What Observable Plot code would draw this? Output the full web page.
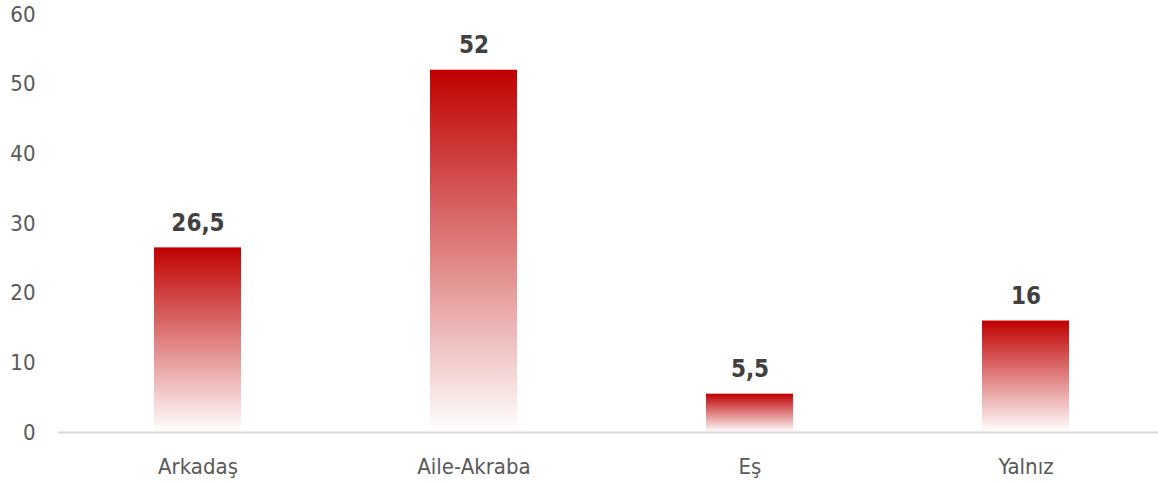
<!DOCTYPE html>
<html>
<head>
<meta charset="utf-8">
<script src="https://cdn.jsdelivr.net/npm/d3@7"></script>
<script src="https://cdn.jsdelivr.net/npm/@observablehq/plot@0.6"></script>
<style>
  html, body { margin: 0; padding: 0; background: #fff; }
  #chart { width: 1158px; height: 484px; }
  svg { font-family: "DejaVu Sans Condensed", "DejaVu Sans", sans-serif; }
</style>
</head>
<body>
<div id="chart"></div>
<script>
const categories = ["Arkadaş", "Aile-Akraba", "Eş", "Yalnız"];
const values = [26.5, 52, 5.5, 16];
const yTicks = [0, 10, 20, 30, 40, 50, 60];

const data = categories.map((c, i) => ({category: c, value: values[i]}));
const fmt = v => String(v).replace(".", ",");

const plot = Plot.plot({
  width: 1158,
  height: 484,
  marginLeft: 58,
  marginRight: 0,
  marginTop: 14,
  marginBottom: 52,
  style: {fontFamily: "'DejaVu Sans Condensed', 'DejaVu Sans', sans-serif", background: "#fff"},
  x: {domain: categories, range: [58, 1164], paddingInner: 0.685, paddingOuter: 0.3425, label: null},
  y: {domain: [0, 60], label: null},
  marks: [
    Plot.barY(data, {x: "category", y: "value", fill: "url(#barGrad)"}),
    Plot.ruleY([0], {stroke: "#d9d9d9", strokeWidth: 2}),
    Plot.axisY({ticks: yTicks, tickSize: 0, tickPadding: 23, fontSize: 22, fill: "#595959", label: null}),
    Plot.axisX({tickSize: 0, tickPadding: 26, fontSize: 22, fill: "#595959", label: null}),
    Plot.text(data, {x: "category", y: "value", text: d => fmt(d.value), dy: -17, lineAnchor: "bottom",
      fontSize: 24, fontWeight: "bold", fill: "#404040"})
  ]
});

const svg = d3.select(plot);
const defs = svg.insert("defs", ":first-child");
const grad = defs.append("linearGradient").attr("id", "barGrad")
  .attr("x1", 0).attr("y1", 0).attr("x2", 0).attr("y2", 1);
grad.append("stop").attr("offset", "0%").attr("stop-color", "#c00000");
grad.append("stop").attr("offset", "100%").attr("stop-color", "#ffffff");

document.getElementById("chart").appendChild(plot);
</script>
</body>
</html>
